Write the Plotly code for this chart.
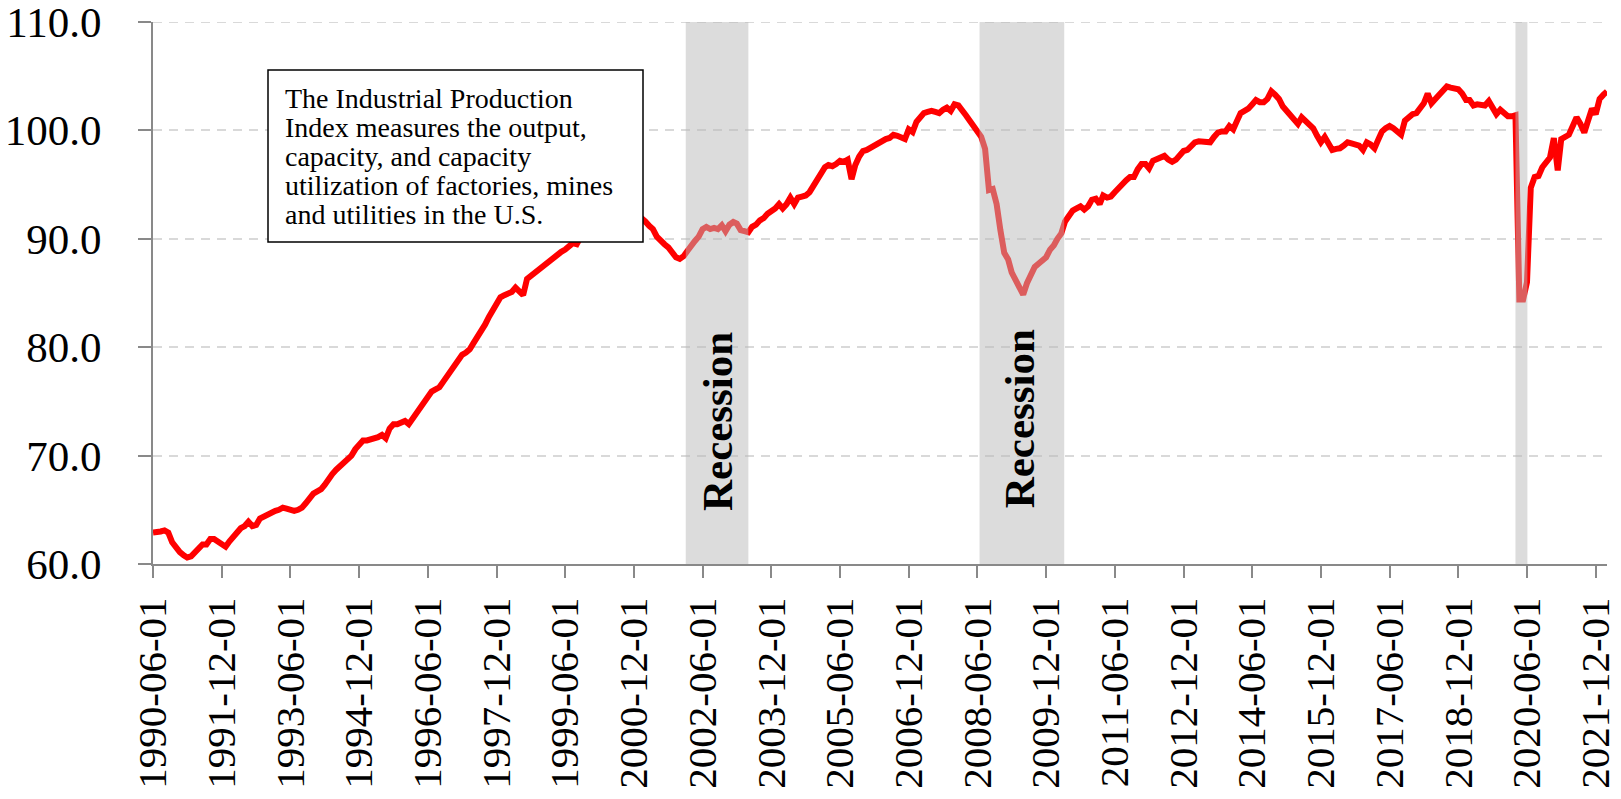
import pandas as pd
import plotly.graph_objects as go

# ---------------- data ----------------
start_month = "1990-06-01"
ip_1990_1994 = [62.9, 62.9, 63.0, 63.1, 62.9, 62.0, 61.5,          # 1990-06 .. 1990-12
                61.1, 60.8, 60.6, 60.7, 61.1, 61.6, 61.8, 61.8, 62.3, 62.3, 62.1, 61.9,   # 1991
                61.6, 62.1, 62.5, 62.9, 63.3, 63.5, 63.9, 63.5, 63.6, 64.2, 64.4, 64.6,   # 1992
                64.8, 64.9, 65.0, 65.2, 65.1, 65.0, 64.9, 65.0, 65.2, 65.6, 66.1, 66.5,   # 1993
                66.7, 66.9, 67.3, 67.9, 68.3, 68.7, 69.0, 69.3, 69.6, 70.0, 70.6, 71.1]   # 1994
ip_1995_1999 = [71.4, 71.4, 71.5, 71.5, 71.7, 71.9, 71.6, 72.5, 72.9, 72.9, 73.0, 73.2,   # 1995
                72.9, 73.4, 73.8, 74.3, 75.0, 75.5, 75.9, 76.1, 76.3, 76.8, 77.3, 77.7,   # 1996
                78.2, 78.8, 79.3, 79.5, 79.8, 80.4, 80.9, 81.4, 82.1, 82.8, 83.5, 84.2,   # 1997
                84.6, 84.8, 84.9, 85.1, 85.5, 85.1, 84.8, 86.3, 86.6, 86.8, 87.1, 87.3,   # 1998
                87.6, 88.0, 88.3, 88.5, 88.8, 89.0, 89.3, 89.6, 89.5, 90.3, 90.8, 91.5]   # 1999
ip_2000_2004 = [91.8, 92.2, 92.6, 93.1, 93.3, 93.4, 93.2, 93.0, 93.3, 92.9, 92.8, 92.5,   # 2000
                92.2, 92.0, 91.6, 91.2, 90.9, 90.2, 89.8, 89.5, 89.2, 88.7, 88.3, 88.15,  # 2001
                88.4, 88.9, 89.4, 89.8, 90.2, 90.9, 91.1, 90.9, 91.0, 90.9, 91.25, 90.7,  # 2002
                91.3, 91.55, 91.4, 90.8, 90.7, 90.6, 91.1, 91.3, 91.7, 91.9, 92.3, 92.5,  # 2003
                92.8, 93.2, 92.8, 93.2, 93.8, 93.2, 93.8, 93.9, 94.0, 94.3, 94.9, 95.4]   # 2004
ip_2005_2009 = [95.9, 96.6, 96.8, 96.7, 96.9, 97.2, 97.1, 97.3, 95.5, 96.8, 97.6, 98.1,   # 2005
                98.2, 98.4, 98.6, 98.9, 99.0, 99.2, 99.3, 99.6, 99.5, 99.3, 99.2, 100.1,  # 2006
                99.85, 100.8, 101.2, 101.6, 101.7, 101.8, 101.7, 101.6, 101.9, 102.1, 101.8, 102.4,  # 2007
                102.3, 101.9, 101.4, 100.9, 100.4, 99.9, 99.4, 98.3, 94.5, 94.6, 93.2, 90.8,  # 2008
                88.7, 88.1, 86.9, 86.2, 85.5, 84.85, 85.9, 86.8, 87.4, 87.7, 88.0, 88.3]  # 2009
ip_2010_2014 = [89.0, 89.4, 90.0, 90.5, 91.6, 92.1, 92.6, 92.8, 93.0, 92.7, 93.0, 93.6,   # 2010
                93.7, 93.2, 94.0, 93.8, 93.9, 94.3, 94.7, 95.1, 95.4, 95.7, 95.7, 96.4,   # 2011
                96.9, 96.9, 96.5, 97.2, 97.4, 97.5, 97.65, 97.3, 97.1, 97.3, 97.65, 98.1,  # 2012
                98.2, 98.5, 98.9, 99.0, 99.0, 99.0, 98.9, 99.4, 99.8, 99.9, 99.9, 100.4,  # 2013
                100.1, 100.9, 101.6, 101.8, 102.0, 102.4, 102.8, 102.6, 102.6, 102.9, 103.6, 103.3]  # 2014
ip_2015_2019 = [102.9, 102.2, 101.8, 101.3, 101.0, 100.6, 101.2, 100.9, 100.6, 100.2, 99.5, 98.9,  # 2015
                99.4, 98.9, 98.2, 98.3, 98.35, 98.6, 98.9, 98.8, 98.7, 98.6, 98.2, 98.9,  # 2016
                98.7, 98.35, 99.1, 99.9, 100.2, 100.4, 100.2, 99.9, 99.6, 100.9, 101.2, 101.5,  # 2017
                101.6, 102.1, 102.5, 103.4, 102.5, 102.9, 103.3, 103.7, 104.05, 103.95, 103.9, 103.8,  # 2018
                103.4, 102.8, 102.8, 102.3, 102.4, 102.4, 102.3, 102.7, 102.1, 101.5, 101.9, 101.6]  # 2019
ip_2020_2022 = [101.3, 101.3, 101.4, 84.4, 84.4, 86.0, 94.7, 95.7, 95.8, 96.6, 97.0, 97.5,  # 2020
                99.3, 96.3, 99.2, 99.4, 99.6, 100.4, 101.2, 100.6, 99.8, 100.9, 102.0, 101.5,  # 2021
                102.9, 103.3, 103.6]                                                        # 2022-01 .. 03

ip_values = ip_1990_1994 + ip_1995_1999 + ip_2000_2004 + ip_2005_2009 + ip_2010_2014 + ip_2015_2019 + ip_2020_2022
months = pd.date_range(start_month, periods=len(ip_values), freq="MS")

tick_labels = ["1990-06-01", "1991-12-01", "1993-06-01", "1994-12-01", "1996-06-01", "1997-12-01",
               "1999-06-01", "2000-12-01", "2002-06-01", "2003-12-01", "2005-06-01", "2006-12-01",
               "2008-06-01", "2009-12-01", "2011-06-01", "2012-12-01", "2014-06-01", "2015-12-01",
               "2017-06-01", "2018-12-01", "2020-06-01", "2021-12-01"]
y_ticks = [60, 70, 80, 90, 100, 110]

recession_starts = ["2002-01-18", "2008-06-18", "2020-03-01"]
recession_ends = ["2003-06-01", "2010-04-24", "2020-06-04"]
recession_label_x = ["2002-09-24", "2009-05-01"]   # where the "Recession" labels sit
recession_label = "Recession"

note_lines = ["The Industrial Production",
              "Index measures the output,",
              "capacity, and capacity",
              "utilization of factories, mines",
              "and utilities in the U.S."]

# ---------------- figure ----------------
FONT = "Liberation Serif"
AXIS_GREY = "#898989"
GRID_GREY = "#d9d9d9"

# page is drawn with the browser's 8px body margin
BODY = 8
W, H = 1621 - 2 * BODY, 799 - 2 * BODY
PLOT_L, PLOT_R, PLOT_T, PLOT_B = 153, 1607, 22, 564          # plot area in page pixels
L = PLOT_L - BODY
R = BODY + W - PLOT_R
T = PLOT_T - BODY
B = BODY + H - PLOT_B
pw, ph = PLOT_R - PLOT_L, PLOT_B - PLOT_T


def px_x(px):
    return (px - PLOT_L) / pw


def px_y(py):
    return (PLOT_B - py) / ph


fig = go.Figure()
fig.add_trace(go.Scatter(x=months, y=ip_values, mode="lines",
                         line=dict(color="#ff0000", width=6),
                         hoverinfo="x+y", showlegend=False))

shapes = []
# top gridline (plotly omits the grid line sitting on the range edge)
shapes.append(dict(type="line", xref="paper", yref="y", x0=0, x1=1, y0=y_ticks[-1], y1=y_ticks[-1],
                   line=dict(color=GRID_GREY, width=2, dash="9px,7px"), layer="below"))
for s, e in zip(recession_starts, recession_ends):
    shapes.append(dict(type="rect", xref="x", yref="paper", x0=s, x1=e, y0=0, y1=1,
                       fillcolor="rgba(185,185,185,0.5)", line=dict(width=0), layer="above"))

shapes.append(dict(type="rect", xref="paper", yref="paper",
                   x0=px_x(268), x1=px_x(643), y0=px_y(242), y1=px_y(70),
                   fillcolor="white", line=dict(color="black", width=1.5), layer="above"))

annotations = []
for lx, py in zip(recession_label_x, [422, 419]):
    annotations.append(dict(x=lx, y=px_y(py), xref="x", yref="paper",
                            text="<b>" + recession_label + "</b>", textangle=-90,
                            showarrow=False, font=dict(family=FONT, size=43, color="black"),
                            xanchor="center", yanchor="middle"))
for i, line in enumerate(note_lines):
    annotations.append(dict(x=px_x(283), y=px_y(98 + 29 * i), xref="paper", yref="paper",
                            text=line, showarrow=False, xanchor="left", yanchor="middle",
                            font=dict(family=FONT, size=28, color="black")))

fig.update_layout(
    width=W, height=H,
    margin=dict(l=L, r=R, t=T, b=B, pad=0),
    paper_bgcolor="white", plot_bgcolor="white",
    font=dict(family=FONT, color="black"),
    shapes=shapes, annotations=annotations,
    showlegend=False,
)
fig.update_xaxes(type="date", range=[months[0], months[-1]],
                 tickvals=tick_labels, ticktext=tick_labels, tickangle=-90,
                 tickfont=dict(family=FONT, size=41, color="black"),
                 showgrid=False, zeroline=False, automargin=False,
                 showline=True, linecolor=AXIS_GREY, linewidth=2,
                 ticks="outside", ticklen=12, tickwidth=2, tickcolor=AXIS_GREY,
                 ticklabelstandoff=3, ticklabeloverflow="allow")
fig.update_yaxes(range=[60, 110], tickvals=y_ticks, tickformat=".1f",
                 tickfont=dict(family=FONT, size=43, color="black"),
                 showgrid=True, gridcolor=GRID_GREY, gridwidth=2, griddash="9px,7px",
                 zeroline=False, showline=True, linecolor=AXIS_GREY, linewidth=2, automargin=False,
                 ticks="outside", ticklen=13, tickwidth=2, tickcolor=AXIS_GREY,
                 ticklabelstandoff=28, ticklabeloverflow="allow")

fig.write_html("out.html")
